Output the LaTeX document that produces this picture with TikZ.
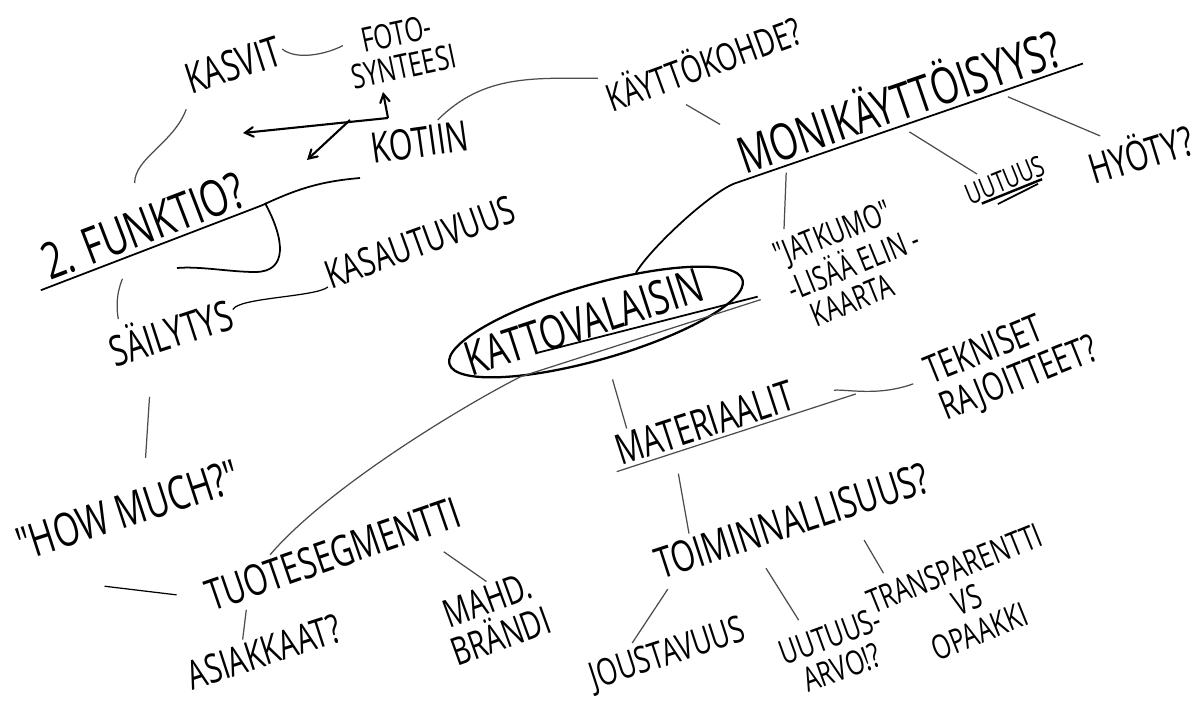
\documentclass[tikz,border=0pt]{standalone}
\usepackage{fontspec}
\usepackage{tikz}
\usetikzlibrary{shapes,arrows,calc}
\newfontfamily\handfont{Open Sans}
\tikzstyle{word} = [font=\handfont\fontsize{24}{24}\selectfont, xscale=.72, inner sep=2pt]
\tikzstyle{ring} = [ellipse, draw, line width=1.3pt, inner sep=0pt]
\tikzstyle{line} = [draw, line width=0.7pt, black!70]
\tikzstyle{under} = [draw, line width=1pt]
\tikzstyle{arrow} = [draw, line width=1.2pt, -angle 60]

\begin{document}
\begin{tikzpicture}[x=0.02cm, y=-0.02cm]
        \fill [white] (0,0) rectangle (1199,702);
        \useasboundingbox (0,0) rectangle (1199,702);
        % Place nodes
        \node [rotate=18, word] (kasvit) at (233,65) {KASVIT};
        \node [rotate=12, word, scale=.8, align=center] (foto) at (400,50) {FOTO-\\SYNTEESI};
        \node [rotate=8, word] (kotiin) at (420,142) {KOTIIN};
        \node [rotate=20, word, scale=.9] (kaytto) at (703,62) {KÄYTTÖKOHDE?};
        \node [rotate=19, word, scale=1.2] (moni) at (898,98) {MONIKÄYTTÖISYYS?};
        \node [rotate=22, word, scale=.68] (uutuus) at (1005,180) {UUTUUS};
        \node [rotate=17, word, scale=.98] (hyoty) at (1140,152) {HYÖTY?};
        \node [rotate=22, word, scale=.78, align=left] (jatkumo) at (853,262) {"JATKUMO"\\-LISÄÄ ELIN -\\\hspace{.5em}KAARTA};
        \node [rotate=21, word, scale=1.2] (funktio) at (143,226) {2. FUNKTIO?};
        \node [rotate=20, word, scale=.93] (kasaut) at (420,242) {KASAUTUVUUS};
        \node [rotate=18, word] (sailytys) at (170,330) {SÄILYTYS};
        \node [rotate=18, word, scale=1.1] (howmuch) at (128,510) {"HOW MUCH?"};
        \node [rotate=19, word, scale=1.02] (tuote) at (333,554) {TUOTESEGMENTTI};
        \node [rotate=18, word, scale=.95] (asiakkaat) at (264,652) {ASIAKKAAT?};
        \node [rotate=20, word, scale=.92, align=center] (brandi) at (494,618) {MAHD.\\BRÄNDI};
        \node [rotate=18, word, scale=1.12] (kv) at (584,322) {KATTOVALAISIN};
        \node [rotate=16, ring, minimum width=6.1cm, minimum height=1.5cm] (ring) at (596,322) {};
        \node [rotate=18, word] (materiaalit) at (705,423) {MATERIAALIT};
        \node [rotate=22, word, scale=.92, align=left] (tekniset) at (1012,362) {TEKNISET\\RAJOITTEET?};
        \node [rotate=18, word, scale=1.02] (toim) at (792,521) {TOIMINNALLISUUS?};
        \node [rotate=18, word, scale=.88] (joust) at (668,655) {JOUSTAVUUS};
        \node [rotate=20, word, scale=.8, align=center] (arvo) at (836,652) {UUTUUS-\\ARVO!?};
        \node [rotate=22, word, scale=.8, align=center] (transp) at (967,600) {TRANSPARENTTI\\VS\\OPAAKKI};
        \coordinate (corner) at (388,118);
        \coordinate (split) at (350,120);
        \coordinate (uptip) at (383,92);
        \coordinate (lefttip) at (243,133);
        \coordinate (downtip) at (307,160);
        \coordinate (fcurl) at (360,178);
        % Draw edges
        \draw [line] (kasvit.east) .. controls +(15,12) and +(-15,8) .. ($(foto.west)!.5!(foto.north west)$);
        \draw [arrow] (corner) -- (uptip);
        \draw [arrow] (corner) -- (lefttip);
        \draw [arrow] (split) -- (downtip);
        \draw [line] ($(kotiin.north)!.4!(kotiin.north east)$) to[out=45, in=180] (kaytto.north west);
        \draw [line, shorten <=10pt, shorten >=4pt] ($(kaytto.south west)!.3!(kaytto.south east)$) -- (moni.north west);
        \draw [under] (ring.35) .. controls +(15,-25) and +(-25,10) .. ($(moni.south west)!-.03!(moni.south east)$) -- ($(moni.south west)!1.04!(moni.south east)$);
        \draw [line, shorten <=4pt, shorten >=4pt] ($(moni.south west)!.13!(moni.south east)$) -- ($(jatkumo.north west)!.12!(jatkumo.north east)$);
        \draw [line, shorten <=6pt, shorten >=2pt] ($(moni.south west)!.48!(moni.south east)$) -- ($(uutuus.north west)!.25!(uutuus.north east)$);
        \draw [line, shorten <=6pt, shorten >=4pt] ($(moni.south west)!.78!(moni.south east)$) -- ($(hyoty.north west)!.25!(hyoty.north east)$);
        \draw [under, line width=1.4pt] ($(uutuus.south west)!.15!(uutuus.south east)$) -- ($(uutuus.south west)!.9!(uutuus.south east)$);
        \draw [under] ($(uutuus.south west)!.35!(uutuus.south east) + (0,7)$) -- ($(uutuus.south west)!.85!(uutuus.south east) + (0,3)$);
        \draw [line, shorten <=6pt, shorten >=12pt] (kasvit.south west) to[out=250, in=90] ($(funktio.north west)!.5!(funktio.north east)$);
        \draw [under] ($(funktio.south west)!-.04!(funktio.south east)$) -- ($(funktio.south west)!1.04!(funktio.south east)$) to[out=25, in=185] (fcurl);
        \draw [under] (265,203) .. controls (285,240) and (288,272) .. (255,272) .. controls (230,272) and (200,266) .. (177,268);
        \draw [line, shorten <=14pt, shorten >=2pt] ($(funktio.south west)!.4!(funktio.south east)$) to[out=250, in=100] ($(sailytys.north west)!.15!(sailytys.north east)$);
        \draw [line, black] (sailytys.east) .. controls +(5,-12) and +(-12,10) .. ($(kasaut.west)!.6!(kasaut.south west)$);
        \draw [line, shorten <=21pt, shorten >=14pt] ($(sailytys.south west)!.3!(sailytys.south east)$) -- ($(howmuch.north west)!.6!(howmuch.north east)$);
        \draw [line, black, shorten >=16pt] ($(tuote.west)+(-100,-12)$) -- (tuote.west);
        \draw [line] ($(tuote.north west)!.28!(tuote.north east)$) .. controls +(60,-70) and +(-50,25) .. (ring.200) -- ($(ring.east)+(17,20)$);
        \draw [under] ($(ring.west)!.3!(ring.east) + (0,14)$) -- ($(ring.east)+(14,17)$);
        \draw [line, shorten <=3pt] ($(tuote.south west)!.14!(tuote.south east)$) -- ($(asiakkaat.north west)!.4!(asiakkaat.north east)$);
        \draw [line, shorten <=10pt] ($(tuote.south west)!.85!(tuote.south east)$) -- ($(brandi.north west)!.55!(brandi.north east)$);
        \draw [line, shorten <=12pt] (ring.south) -- ($(materiaalit.north west)!.1!(materiaalit.north east)$);
        \draw [line] ($(materiaalit.south west)!-.02!(materiaalit.south east)$) -- ($(materiaalit.south west)!1.3!(materiaalit.south east)$);
        \draw [line, shorten <=22pt, shorten >=8pt] (materiaalit.east) to[out=5, in=200] ($(tekniset.west)!.4!(tekniset.north west)$);
        \draw [line, shorten <=12pt] ($(materiaalit.south west)!.3!(materiaalit.south east)$) -- ($(toim.north west)!.15!(toim.north east)$);
        \draw [line, shorten <=6pt, shorten >=2pt] ($(toim.south west)!.05!(toim.south east)$) -- ($(joust.north west)!.3!(joust.north east)$);
        \draw [line, shorten <=10pt, shorten >=6pt] ($(toim.south west)!.35!(toim.south east)$) -- ($(arvo.north west)!.3!(arvo.north east)$);
        \draw [line, shorten <=12pt, shorten >=4pt] ($(toim.south west)!.7!(toim.south east)$) -- ($(transp.north west)!.15!(transp.north east)$);
    \end{tikzpicture}
\end{document}
